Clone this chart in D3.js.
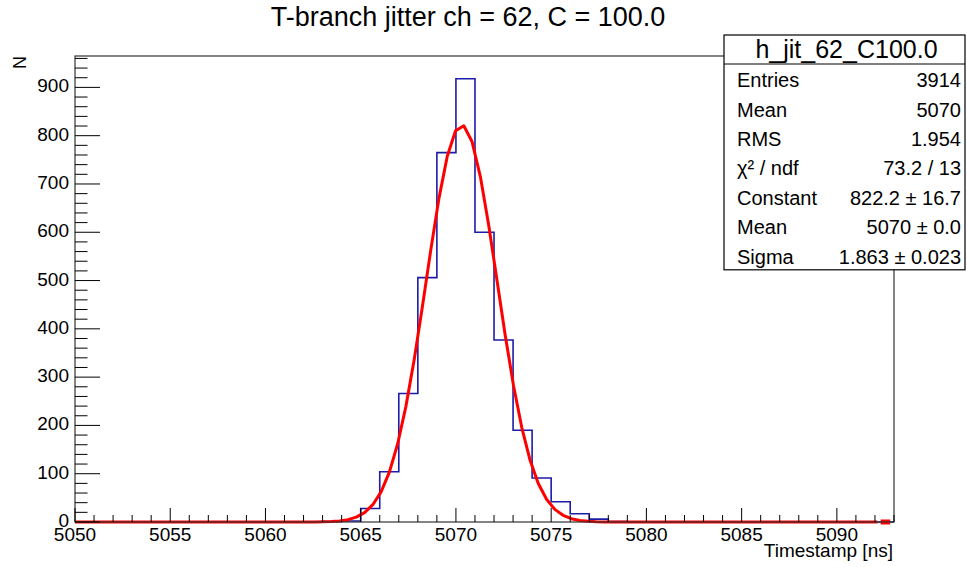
<!DOCTYPE html>
<html><head><meta charset="utf-8">
<script src="https://cdn.jsdelivr.net/npm/d3@7"></script>
<style>
body{margin:0;background:#fff}
text{font-family:"Liberation Sans",Arial,Helvetica,sans-serif;fill:#000}
</style>
</head><body>
<svg id="c" width="967" height="567"></svg>
<script>
// ---- data ----
const binLowEdges = [5063,5064,5065,5066,5067,5068,5069,5070,5071,5072,5073,5074,5075,5076,5077,5078];
const binCounts   = [1,   2,   28,  104, 266, 506, 765, 918, 600, 377, 190, 91,  42,  17,  6,   1];
const binWidth = 1;
const xDomain = [5050, 5093];
const yDomain = [0, 965];
const xMajorTicks = [5050,5055,5060,5065,5070,5075,5080,5085,5090];
const yMajorTicks = [0,100,200,300,400,500,600,700,800,900];
const fitConstant = [822.2];
const fitMean = [5070.3];
const fitSigma = [1.863];
const fitRange = [5050, 5093];
const fitNpx = [99];
const titleText = "T-branch jitter ch = 62, C = 100.0";
const xTitle = "Timestamp [ns]";
const yTitle = "N";
const statsName = "h_jit_62_C100.0";
const statsLabels = ["Entries","Mean","RMS","\u03c7\u00b2 / ndf","Constant","Mean","Sigma"];
const statsValues = ["3914","5070","1.954","73.2 / 13","822.2 \u00b1 16.7","5070 \u00b1 0.0","1.863 \u00b1 0.023"];

// ---- layout ----
const L = 75, R = 894, T = 56, B = 522;
const svg = d3.select("#c");
const x = d3.scaleLinear().domain(xDomain).range([L, R]);
const y = d3.scaleLinear().domain(yDomain).range([B, T]);

// title
svg.append("text").attr("x", 468).attr("y", 26).attr("text-anchor","middle")
  .attr("font-size", 27).text(titleText);

// histogram outline
const countAt = new Map(binLowEdges.map((b,i)=>[b, binCounts[i]]));
const pts = [[xDomain[0], 0]];
for (let b = xDomain[0]; b < xDomain[1]; b += binWidth) {
  const c = countAt.get(b) || 0;
  pts.push([b, c]); pts.push([b + binWidth, c]);
}
pts.push([xDomain[1], 0]);
const line = d3.line().x(d=>x(d[0])).y(d=>y(d[1]));
svg.append("path").attr("d", line(pts)).attr("fill","none")
  .attr("stroke","#1c1ca8").attr("stroke-width",1.6);

// fit curve
const gpts = [];
const dx = (fitRange[1]-fitRange[0]) / fitNpx[0];
for (let i = 0; i <= fitNpx[0]; i++) {
  const xv = fitRange[0] + i*dx;
  gpts.push([xv, fitConstant[0]*Math.exp(-0.5*Math.pow((xv-fitMean[0])/fitSigma[0],2))]);
}
svg.append("path").attr("d", line(gpts.filter(d=>d[0] <= fitRange[1]-0.6))).attr("fill","none")
  .attr("stroke","#ff0000").attr("stroke-width",3).attr("stroke-linejoin","round");
svg.append("rect").attr("x", x(fitRange[1]-0.7)).attr("y", y(0)-2.5)
  .attr("width", x(fitRange[1]-0.2)-x(fitRange[1]-0.7)).attr("height", 5).attr("fill","#ff0000");

// frame
svg.append("rect").attr("x", L).attr("y", T).attr("width", R-L).attr("height", B-T)
  .attr("fill","none").attr("stroke","#333").attr("stroke-width",1.2);

// x ticks
const xt = svg.append("g");
for (let v = xDomain[0]; v <= xDomain[1]; v += 1) {
  const major = xMajorTicks.includes(v);
  xt.append("line").attr("x1", x(v)).attr("x2", x(v)).attr("y1", B).attr("y2", B - (major?14:7))
    .attr("stroke","#000").attr("stroke-width",1);
}
xMajorTicks.forEach(v => {
  xt.append("text").attr("x", x(v)).attr("y", 540.5).attr("text-anchor","middle")
    .attr("font-size", 19).text(v);
});

// y ticks
const yt = svg.append("g");
for (let v = yDomain[0]; v <= yDomain[1]; v += 20) {
  const major = yMajorTicks.includes(v);
  yt.append("line").attr("x1", L).attr("x2", L + (major?25:12.5)).attr("y1", y(v)).attr("y2", y(v))
    .attr("stroke","#000").attr("stroke-width",1);
}
yMajorTicks.forEach(v => {
  yt.append("text").attr("x", 69).attr("y", y(v)+5).attr("text-anchor","end")
    .attr("font-size", 19).text(v);
});

// axis titles
svg.append("text").attr("x", 893).attr("y", 557).attr("text-anchor","end")
  .attr("font-size", 19).text(xTitle);
svg.append("text").attr("transform","translate(26,56) rotate(-90)").attr("text-anchor","end")
  .attr("font-size", 18).text(yTitle);

// stats box
const sx = 724, sy = 35, sw = 241, headH = 29, rowH = 29.4;
const sh = headH + rowH*statsLabels.length;
const sg = svg.append("g");
sg.append("rect").attr("x", sx).attr("y", sy).attr("width", sw).attr("height", sh)
  .attr("fill","#fff").attr("stroke","#000").attr("stroke-width",1.2);
sg.append("line").attr("x1", sx).attr("x2", sx+sw).attr("y1", sy+headH).attr("y2", sy+headH)
  .attr("stroke","#000").attr("stroke-width",1);
sg.append("text").attr("x", sx+sw/2+2).attr("y", sy+23).attr("text-anchor","middle")
  .attr("font-size", 25).text(statsName);
statsLabels.forEach((lab,i) => {
  const by = sy + headH + rowH*(i+0.5) + 8.5;
  sg.append("text").attr("x", 737).attr("y", by).attr("font-size", 20).text(lab);
  sg.append("text").attr("x", 961).attr("y", by).attr("text-anchor","end")
    .attr("font-size", 20).text(statsValues[i]);
});
</script>
</body></html>
